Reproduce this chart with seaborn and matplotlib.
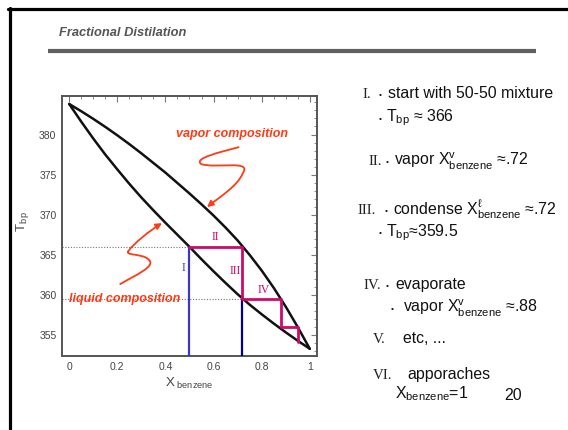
import numpy as np
import pandas as pd
import matplotlib
matplotlib.use("Agg")
import matplotlib.pyplot as plt
import seaborn as sns
from matplotlib.lines import Line2D
from matplotlib.path import Path
from matplotlib.patches import FancyArrowPatch
from matplotlib.ticker import MultipleLocator, FixedLocator

# ---------------- data ----------------
comp_x = [0.0, 0.05, 0.1, 0.15, 0.2, 0.25, 0.3, 0.35, 0.4, 0.45, 0.5,
          0.55, 0.6, 0.65, 0.7, 0.75, 0.8, 0.85, 0.9, 0.95, 1.0]
liq_T = [383.8, 381.6, 379.5, 377.5, 375.65, 373.85, 372.15, 370.55, 369.0, 367.5, 366.0,
         364.45, 362.95, 361.5, 360.1, 358.8, 357.6, 356.45, 355.35, 354.3, 353.3]
vap_T = [383.8, 382.9, 381.95, 380.95, 379.9, 378.8, 377.65, 376.45, 375.25, 373.95, 372.65,
         371.3, 369.9, 368.4, 366.8, 365.0, 363.05, 360.9, 358.55, 356.0, 353.3]

step_x = [0.50, 0.72, 0.72, 0.88, 0.88, 0.95, 0.95]
step_T = [366.0, 366.0, 359.5, 359.5, 356.0, 356.0, 354.2]

start_x = 0.50      # I: initial mixture
start_T = 366.0
cond_x = 0.72       # III: condensed composition
cond_T = 359.5

xticks = [0, 0.2, 0.4, 0.6, 0.8, 1.0]
xticklabels = ["0", "0.2", "0.4", "0.6", "0.8", "1"]
yticks = [355, 360, 365, 370, 375, 380]

# ---------------- style ----------------
sns.set_theme(style="white")
plt.rcParams["font.family"] = ["Liberation Sans", "DejaVu Sans"]
plt.rcParams["mathtext.fontset"] = "custom"
plt.rcParams["mathtext.rm"] = "Liberation Sans"
plt.rcParams["mathtext.it"] = "Liberation Sans:italic"
plt.rcParams["mathtext.bf"] = "Liberation Sans:bold"
plt.rcParams["mathtext.default"] = "regular"

W, H = 568, 430
fig = plt.figure(figsize=(W / 100, H / 100), dpi=100)
fig.patch.set_facecolor("white")

def px(x):
    return x / W

def py(y):
    return 1 - y / H

ax = fig.add_axes([px(62), py(356), px(317) - px(62), py(96) - py(356)])
ax.set_xlim(-0.03, 1.03)
ax.set_ylim(352.4, 384.8)

RED = "#ff3a14"
MAG = "#cc0a6a"
BLUE = "#3838c8"
NAVY = "#00008f"

liq = pd.DataFrame({"x": comp_x, "T": liq_T})
vap = pd.DataFrame({"x": comp_x, "T": vap_T})
steps = pd.DataFrame({"x": step_x, "T": step_T})

sns.lineplot(data=liq, x="x", y="T", sort=False, estimator=None, color="#111111", lw=1.8, ax=ax, zorder=3)
sns.lineplot(data=vap, x="x", y="T", sort=False, estimator=None, color="#111111", lw=1.8, ax=ax, zorder=3)

ymin = ax.get_ylim()[0]
xmin = ax.get_xlim()[0]
ax.hlines([start_T, cond_T], xmin, [start_x, cond_x], colors="#777777", linestyles=(0, (1, 1.5)), lw=0.8, zorder=1)
ax.vlines(start_x, ymin, start_T, colors=BLUE, lw=1.6, zorder=4)
ax.vlines(cond_x, ymin, cond_T, colors=NAVY, lw=1.6, zorder=4)
sns.lineplot(data=steps, x="x", y="T", sort=False, estimator=None, color=MAG, lw=2.0, ax=ax, zorder=5)

serif = "Liberation Serif"
ax.text(0.474, 363.4, "I", color=BLUE, family=serif, fontsize=8.5, ha="center", va="center")
ax.text(0.606, 367.25, "II", color=MAG, family=serif, fontsize=8.5, ha="center", va="center")
ax.text(0.689, 363.0, "III", color=MAG, family=serif, fontsize=8.5, ha="center", va="center")
ax.text(0.81, 360.6, "IV", color=MAG, family=serif, fontsize=8.5, ha="center", va="center")

ax.text(0.675, 380.1, "vapor composition", color=RED, fontsize=9, fontweight="bold",
        fontstyle="italic", ha="center", va="center", zorder=6)
ax.text(0.232, 359.45, "liquid composition", color=RED, fontsize=9, fontweight="bold",
        fontstyle="italic", ha="center", va="center", zorder=6)

# squiggly arrows (decoration)
C4 = Path.CURVE4
vap_arrow = [(0.704, 378.42), (0.627, 377.80), (0.517, 377.05), (0.548, 376.33),
             (0.606, 375.70), (0.761, 376.90), (0.722, 375.21),
             (0.701, 373.56), (0.618, 372.07), (0.573, 370.95)]
liq_arrow = [(0.212, 361.36), (0.274, 362.48), (0.367, 363.60), (0.328, 364.47),
             (0.303, 365.22), (0.222, 364.85), (0.249, 365.59),
             (0.266, 366.34), (0.336, 368.08), (0.386, 368.95)]
for verts in (vap_arrow, liq_arrow):
    codes = [Path.MOVETO] + [C4] * 9
    patch = FancyArrowPatch(path=Path(verts, codes), arrowstyle="-|>", mutation_scale=9,
                            color=RED, lw=1.3, zorder=6)
    ax.add_patch(patch)

# axes styling
for s in ax.spines.values():
    s.set_color("#555555")
    s.set_linewidth(1.4)
ax.xaxis.set_major_locator(FixedLocator(xticks))
ax.set_xticklabels(xticklabels)
ax.yaxis.set_major_locator(FixedLocator(yticks))
ax.xaxis.set_minor_locator(MultipleLocator(0.05))
ax.yaxis.set_minor_locator(MultipleLocator(1))
ax.tick_params(which="both", direction="in", top=True, right=True, color="#777777")
ax.tick_params(which="major", length=4, width=0.8, labelsize=7.5, labelcolor="#444444")
ax.tick_params(which="minor", length=2, width=0.6)
ax.tick_params(axis="x", pad=4)
ax.tick_params(axis="y", pad=4)
ax.set_xlabel(r"X$_{\ \rm benzene}$", fontsize=9.5, color="#444444", labelpad=3)
ax.set_ylabel(r"T$_{\rm b\,p}$", fontsize=9.5, color="#444444")
ax.yaxis.set_label_coords(-0.12, 0.52)

# ---------------- slide decorations ----------------
fig.add_artist(Line2D([px(8), 1], [py(9), py(9)], color="black", lw=2.3, transform=fig.transFigure))
fig.add_artist(Line2D([px(9.5), px(9.5)], [0, py(8)], color="black", lw=2.3, transform=fig.transFigure))
fig.add_artist(Line2D([px(48), px(536)], [py(51), py(51)], color="#606060", lw=3.0,
                      transform=fig.transFigure, solid_capstyle="butt"))
fig.text(px(59), py(33), "Fractional Distilation", fontsize=9.3, fontweight="bold",
         fontstyle="italic", color="#555555", va="center", ha="left")

TXT = "#111111"
FS = 11.4
def roman(x, y, s):
    fig.text(px(x), py(y), s, family=serif, fontsize=10.8, color="#222222", va="baseline")
def bullet(x, y):
    fig.text(px(x), py(y), "\u2022", fontsize=6, color=TXT, va="baseline")
def line(x, y, s, fs=FS):
    fig.text(px(x), py(y), s, fontsize=fs, color=TXT, va="baseline")

roman(363, 98.3, "I.")
bullet(379, 97)
line(388, 98.3, "start with 50-50 mixture")
bullet(379, 120.5)
line(386, 121.7, "T$_{bp}$ \u2248 366")

roman(369, 165, "II.")
bullet(386, 163.8)
line(394, 165, "vapor X$^{v}_{benzene}$ \u2248.72")

roman(358, 214, "III.")
bullet(385, 212.8)
line(393, 214, "condense X$^{\\ell}_{benzene}$ \u2248.72")
bullet(379, 235.5)
line(386, 236.7, "T$_{bp}$\u2248359.5")

roman(364, 289.3, "IV.")
bullet(386, 288)
line(395, 289.3, "evaporate")
bullet(391, 311.5)
line(403, 312.7, "vapor X$^{v}_{benzene}$ \u2248.88")

roman(373, 343.3, "V.")
line(403, 343.3, "etc, ...")
roman(373, 379.3, "VI.")
line(407, 379.3, "apporaches")
line(395, 398.3, "X$_{benzene}$=1")
line(504, 400, "20")

fig.savefig("out.png", dpi=100, facecolor="white")
